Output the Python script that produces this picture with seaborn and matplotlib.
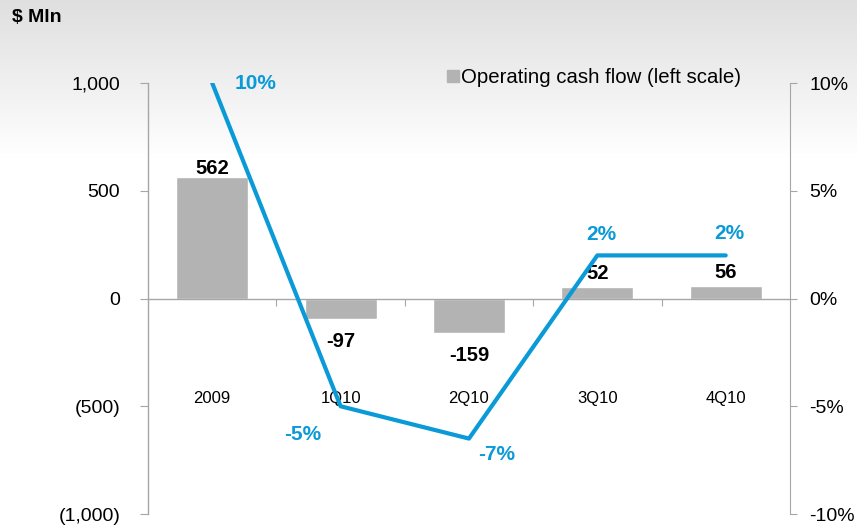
import seaborn as sns
import matplotlib.pyplot as plt
import numpy as np
import pandas as pd
from matplotlib.lines import Line2D
from matplotlib.ticker import FuncFormatter

sns.set_style("white")
plt.rcParams['font.family'] = ['Liberation Sans', 'DejaVu Sans']
plt.rcParams['text.color'] = 'black'
plt.rcParams['xtick.color'] = 'black'
plt.rcParams['ytick.color'] = 'black'

# data
periods = ['2009', '1Q10', '2Q10', '3Q10', '4Q10']
cash_flow = [562, -97, -159, 52, 56]
margin = [10, -5, -6.5, 2, 2]
margin_labels = ['10%', '-5%', '-7%', '2%', '2%']

df = pd.DataFrame({'period': periods, 'cash': cash_flow, 'margin': margin})

bar_grey = '#b3b3b3'
blue = '#0a9ad7'
axis_grey = '#a6a6a6'

fig = plt.figure(figsize=(8.57, 5.26), dpi=100)

# background gradient (grey at top -> white), vertical
bg = fig.add_axes([0, 0, 1, 1], zorder=-10)
grad = np.linspace(0, 1, 526).reshape(-1, 1)
shade = np.clip(0.875 + 0.125 * (grad / 0.3), 0, 1)
img = np.dstack([shade, shade, shade])
bg.imshow(img, aspect='auto', extent=[0, 1, 0, 1])
bg.axis('off')

ax = fig.add_axes([0.1727, 0.0228, 0.749, 0.8194])
ax.patch.set_alpha(0)
sns.barplot(data=df, x='period', y='cash', color=bar_grey, width=0.56,
            saturation=1, ax=ax)
ax.set_ylim(-1000, 1000)
ax.set_xlim(-0.5, 4.5)
ax.set_yticks([-1000, -500, 0, 500, 1000])
ax.yaxis.set_major_formatter(FuncFormatter(
    lambda v, p: f"({abs(v):,.0f})" if v < 0 else f"{v:,.0f}"))
ax.set_xlabel('')
ax.set_ylabel('')

for s in ['top', 'right']:
    ax.spines[s].set_visible(False)
for s in ['left', 'bottom']:
    ax.spines[s].set_color(axis_grey)
    ax.spines[s].set_linewidth(1)
ax.spines['bottom'].set_position(('data', 0))
ax.set_xticks([0.5, 1.5, 2.5, 3.5])
ax.set_xticklabels([])
ax.tick_params(axis='x', direction='out', length=5, color=axis_grey, bottom=True)
ax.tick_params(axis='y', direction='out', length=6, color=axis_grey, left=True,
               labelsize=14, labelcolor='black', pad=14)

for i, name in enumerate(periods):
    ax.text(i, -463, name, ha='center', va='center', fontsize=12)

bar_off = [(0, 9), (0, -22), (0, -23), (0, 14), (0, 14)]
for i, v in enumerate(cash_flow):
    ax.annotate(f"{v}", (i, v), xytext=bar_off[i], textcoords='offset pixels',
                ha='center', va='center', fontsize=14.5, fontweight='bold')

ax2 = ax.twinx()
sns.lineplot(x=np.arange(len(periods)), y=margin, color=blue, linewidth=3,
             ax=ax2)
ax2.set_ylim(-10, 10)
ax2.set_yticks([-10, -5, 0, 5, 10])
ax2.yaxis.set_major_formatter(FuncFormatter(lambda v, p: f"{v:.0f}%"))
for s in ['top', 'left', 'bottom']:
    ax2.spines[s].set_visible(False)
ax2.spines['right'].set_color(axis_grey)
ax2.tick_params(axis='y', direction='out', length=5, color=axis_grey, right=True,
                labelsize=14, labelcolor='black', pad=9)

line_off = [(43, 0), (-38, -28), (28, -16), (4, 21), (4, 22)]
for i, v in enumerate(margin):
    ax2.annotate(margin_labels[i], (i, v), xytext=line_off[i],
                 textcoords='offset pixels', ha='center', va='center',
                 fontsize=15, fontweight='bold', color=blue)

handle = Line2D([], [], marker='s', color=bar_grey, linestyle='none',
                markersize=9)
ax2.legend([handle], ['Operating cash flow (left scale)'], loc='upper right',
           bbox_to_anchor=(0.952, 1.077), frameon=False, fontsize=14.7,
           handlelength=0.6, handletextpad=0.1)

fig.text(0.014, 0.967, '$ Mln', fontsize=14, fontweight='bold', ha='left',
         va='center')

fig.savefig('out.png', dpi=100)
